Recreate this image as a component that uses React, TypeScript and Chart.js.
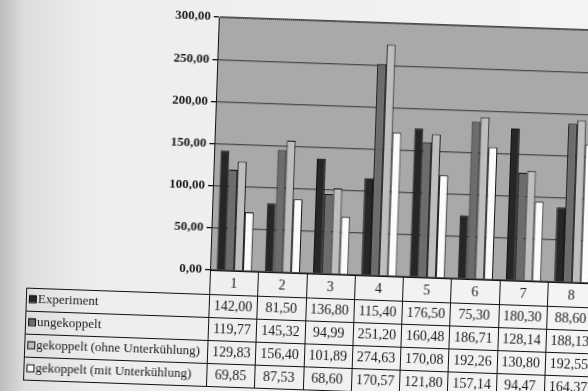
import React, { useEffect, useRef } from "react";
import { Chart, registerables } from "chart.js";

Chart.register(...registerables);

const categories = ["1", "2", "3", "4", "5", "6", "7", "8"];
const seriesNames = [
  "Experiment",
  "ungekoppelt",
  "gekoppelt (ohne Unterkühlung)",
  "gekoppelt (mit Unterkühlung)",
];
const experiment = [142.0, 81.5, 136.8, 115.4, 176.5, 75.3, 180.3, 88.6];
const ungekoppelt = [119.77, 145.32, 94.99, 251.2, 160.48, 186.71, 128.14, 188.13];
const ohneUnterkuehlung = [129.83, 156.4, 101.89, 274.63, 170.08, 192.26, 130.8, 192.55];
const mitUnterkuehlung = [69.85, 87.53, 68.6, 170.57, 121.8, 157.14, 94.47, 164.37];
const yTicks = [0, 50, 100, 150, 200, 250, 300];

const seriesValues = [experiment, ungekoppelt, ohneUnterkuehlung, mitUnterkuehlung];
const seriesColors = ["#262626", "#6c6c6c", "#bebebe", "#fbfbfb"];

const FONT = '"Liberation Serif", "Times New Roman", serif';
const fmt = (v: number) => v.toFixed(2).replace(".", ",");

const tablePlugin = {
  id: "dataTable",
  beforeDraw(chart: any) {
    const { ctx, chartArea: a } = chart;
    ctx.save();
    ctx.fillStyle = "#a9a9a9";
    ctx.fillRect(a.left, a.top, a.right - a.left, a.bottom - a.top);
    ctx.restore();
  },
  afterDraw(chart: any) {
    const { ctx, chartArea: a, scales } = chart;
    const xs = scales.x;
    const n = categories.length;
    const w = (a.right - a.left) / n;
    const rows = [0, 24, 47, 70, 93, 116].map((v) => a.bottom + v);
    const labelLeft = 27;
    ctx.save();
    // dotted top border
    ctx.strokeStyle = "#333";
    ctx.lineWidth = 1;
    ctx.setLineDash([1, 1]);
    ctx.beginPath();
    ctx.moveTo(a.left, a.top + 0.5);
    ctx.lineTo(a.right, a.top + 0.5);
    ctx.stroke();
    ctx.setLineDash([]);
    // axis line / table top
    ctx.strokeStyle = "#111";
    ctx.beginPath();
    ctx.moveTo(a.left, rows[0] + 0.5);
    ctx.lineTo(a.right, rows[0] + 0.5);
    ctx.stroke();
    // horizontal row lines
    for (let i = 1; i < rows.length; i++) {
      ctx.beginPath();
      ctx.moveTo(labelLeft, rows[i] + 0.5);
      ctx.lineTo(a.right, rows[i] + 0.5);
      ctx.stroke();
    }
    // vertical column lines
    for (let j = 0; j <= n; j++) {
      const x0 = Math.round(xs.getPixelForValue(0) - w / 2 + j * w) + 0.5;
      ctx.beginPath();
      ctx.moveTo(x0, rows[0]);
      ctx.lineTo(x0, rows[rows.length - 1]);
      ctx.stroke();
    }
    ctx.beginPath();
    ctx.moveTo(labelLeft + 0.5, rows[1]);
    ctx.lineTo(labelLeft + 0.5, rows[rows.length - 1]);
    ctx.stroke();

    ctx.fillStyle = "#1a1a1a";
    ctx.textBaseline = "middle";
    ctx.textAlign = "center";
    ctx.font = `14px ${FONT}`;
    categories.forEach((c, j) => {
      ctx.fillText(c, xs.getPixelForValue(j), (rows[0] + rows[1]) / 2 + 1);
    });
    seriesValues.forEach((vals, r) => {
      const cy = (rows[r + 1] + rows[r + 2]) / 2 + 1;
      ctx.textAlign = "center";
      ctx.font = `14px ${FONT}`;
      ctx.fillStyle = "#1a1a1a";
      vals.forEach((v, j) => ctx.fillText(fmt(v), xs.getPixelForValue(j), cy));
      // legend key
      ctx.fillStyle = seriesColors[r];
      ctx.fillRect(30, cy - 5, 7, 7);
      ctx.strokeStyle = "#111";
      ctx.strokeRect(30.5, cy - 4.5, 7, 7);
      ctx.fillStyle = "#1a1a1a";
      ctx.textAlign = "left";
      ctx.font = `13px ${FONT}`;
      ctx.fillText(seriesNames[r], 39, cy - 1);
    });
    ctx.restore();
  },
};

export default function App() {
  const ref = useRef<HTMLCanvasElement | null>(null);
  useEffect(() => {
    if (!ref.current) return;
    Chart.defaults.font.family = FONT;
    const chart = new Chart(ref.current, {
      type: "bar",
      data: {
        labels: categories,
        datasets: seriesNames.map((name, i) => ({
          label: name,
          data: seriesValues[i],
          backgroundColor: seriesColors[i],
          borderColor: "#111",
          borderWidth: 1,
          categoryPercentage: 0.73,
          barPercentage: 1,
        })),
      },
      options: {
        responsive: false,
        animation: false,
        events: [],
        layout: { padding: { top: 17, right: 14, bottom: 121, left: 0 } },
        plugins: { legend: { display: false }, tooltip: { enabled: false } },
        scales: {
          x: { display: false },
          y: {
            min: 0,
            max: 300,
            afterBuildTicks: (s: any) => {
              s.ticks = yTicks.map((v) => ({ value: v }));
            },
            afterFit: (s: any) => {
              s.width = 210;
            },
            ticks: {
              color: "#1a1a1a",
              padding: 3,
              font: { size: 13, weight: "bold", family: FONT },
              callback: (v: any) => fmt(Number(v)),
            },
            grid: {
              color: "#4a4a4a",
              lineWidth: 1.3,
              tickColor: "#111",
              tickLength: 5,
            },
            border: { color: "#111", width: 1 },
          },
        },
      },
      plugins: [tablePlugin],
    } as any);
    return () => chart.destroy();
  }, []);

  return (
    <div
      style={{
        position: "fixed",
        left: 0,
        top: 0,
        width: 588,
        height: 391,
        overflow: "hidden",
        background:
          "linear-gradient(90deg, #bdbdbd 0px, #dedede 25px, #ededed 90px, #f4f4f4 100%)",
      }}
    >
      <canvas
        ref={ref}
        width={610}
        height={391}
        style={{
          position: "absolute",
          left: 0,
          top: 0,
          width: 610,
          height: 391,
          transform: "rotate(2deg)",
          transformOrigin: "210px 270px",
        }}
      />
    </div>
  );
}
